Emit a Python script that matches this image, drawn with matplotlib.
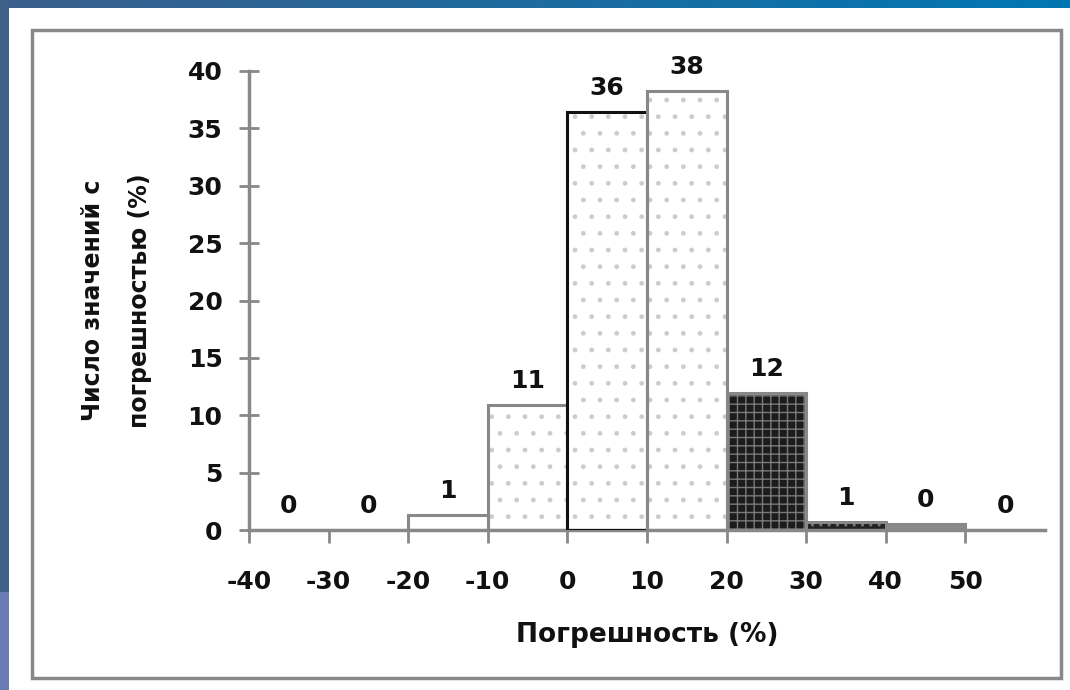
import matplotlib
matplotlib.use("Agg")
import matplotlib.pyplot as plt
import numpy as np
from matplotlib.patches import Rectangle

# data
bin_edges = [-40, -30, -20, -10, 0, 10, 20, 30, 40, 50]
bin_width = 10
share_pct = [0.0, 0.0, 1.3, 10.9, 36.4, 38.3, 11.9, 0.7, 0.5, 0.0]
value_labels = ["0", "0", "1", "11", "36", "38", "12", "1", "0", "0"]
x_ticks = [-40, -30, -20, -10, 0, 10, 20, 30, 40, 50]
y_ticks = [0, 5, 10, 15, 20, 25, 30, 35, 40]

face_colors = ["white", "white", "white", "white", "white", "white",
               "#1c1c1c", "#222222", "#8a8a8a", "white"]
hatch_colors = ["#cccccc", "#cccccc", "#b0b0b0", "#cccccc", "#cccccc", "#cccccc",
                "#7a7a7a", "#777777", "#8a8a8a", "#cccccc"]
hatches = [".", ".", "v", ".", ".", ".", "++", "..", None, None]
edge_colors = ["#888888"] * 10
edge_colors[4] = "#111111"

plt.rcParams["font.family"] = ["DejaVu Sans"]
plt.rcParams["font.weight"] = "bold"
plt.rcParams["axes.unicode_minus"] = False

W, H = 1070, 690
fig = plt.figure(figsize=(W / 100, H / 100), dpi=100, facecolor="white")

# slide decoration: blue strips and the grey frame round the chart
grad = fig.add_axes([0, 1 - 8 / H, 1, 8 / H])
grad.imshow(np.linspace(0, 1, 256)[None, :], aspect="auto",
            cmap=matplotlib.colors.LinearSegmentedColormap.from_list("b", ["#3b5f8c", "#0077b2"]))
grad.axis("off")
fig.patches.append(Rectangle((0, 98 / H), 9 / W, 1 - 98 / H, transform=fig.transFigure,
                             facecolor="#3d6189", edgecolor="none", zorder=0))
fig.patches.append(Rectangle((0, 0), 9 / W, 98 / H, transform=fig.transFigure,
                             facecolor="#6a7bb6", edgecolor="none", zorder=0))
fig.patches.append(Rectangle((32 / W, 12 / H), 1029 / W, 648 / H, transform=fig.transFigure,
                             facecolor="none", edgecolor="#888888", linewidth=2.5, zorder=1))

ax = fig.add_axes([249 / W, 1 - 530 / H, (1045 - 249) / W, (530 - 71) / H])

# fill + pattern, then outline on top
for i, (x0, h) in enumerate(zip(bin_edges, share_pct)):
    if h <= 0:
        continue
    ax.bar(x0, h, width=bin_width, align="edge", color=face_colors[i],
           hatch=hatches[i], edgecolor=hatch_colors[i], linewidth=0, zorder=2)
    ax.bar(x0, h, width=bin_width, align="edge", color="none",
           edgecolor=edge_colors[i], linewidth=2.2, zorder=3)

for x0, h, lab in zip(bin_edges, share_pct, value_labels):
    ax.annotate(lab, (x0 + bin_width / 2, h), xytext=(0, 12), textcoords="offset pixels",
                ha="center", va="bottom", fontsize=18, fontweight="bold", color="#111111")

ax.set_xlim(-40, 60)
ax.set_ylim(0, 40)
ax.set_xticks(x_ticks)
ax.set_yticks(y_ticks)
ax.tick_params(axis="x", direction="out", length=9, width=2, color="#888888",
               labelsize=18, labelcolor="#111111", pad=20)
ax.tick_params(axis="y", direction="inout", length=14, width=2, color="#888888",
               labelsize=18, labelcolor="#111111", pad=12)
for side in ["top", "right"]:
    ax.spines[side].set_visible(False)
for side in ["left", "bottom"]:
    ax.spines[side].set_color("#888888")
    ax.spines[side].set_linewidth(2.5)
ax.patch.set_alpha(0)

ax.set_xlabel("Погрешность (%)", fontsize=19, fontweight="bold", color="#111111", labelpad=20)
ax.set_ylabel("Число значений с\nпогрешностью (%)", fontsize=17, fontweight="bold",
              color="#111111", labelpad=26, linespacing=2.2)

fig.savefig("out.png", dpi=100, facecolor="white")
